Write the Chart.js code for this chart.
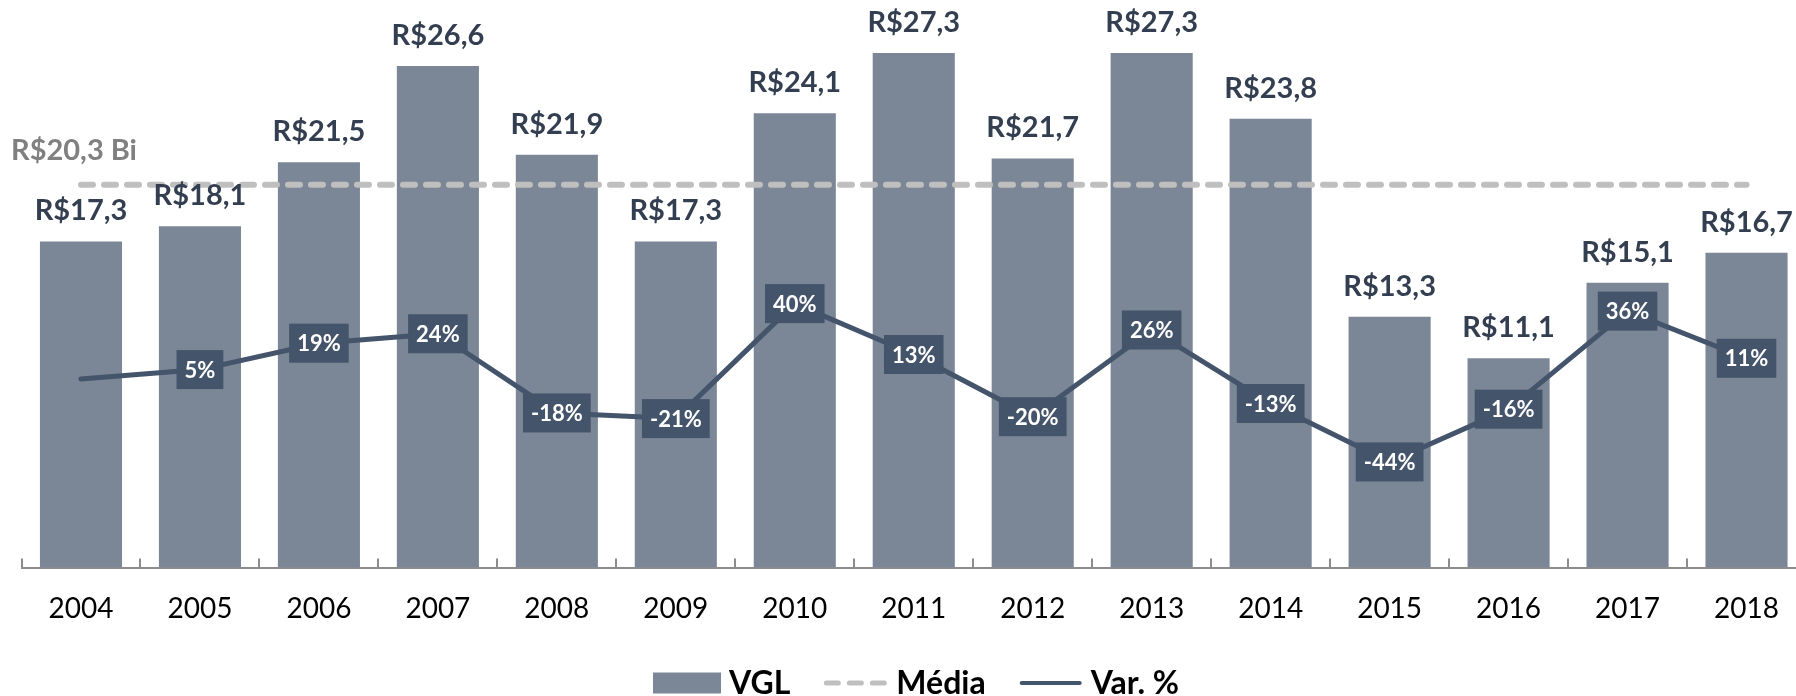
<!DOCTYPE html>
<html>
<head>
<meta charset="utf-8">
<script src="https://cdn.jsdelivr.net/npm/chart.js@4/dist/chart.umd.min.js"></script>
<style>
html,body{margin:0;padding:0;overflow:hidden;background:#ffffff;}
#wrap{position:relative;width:1806px;height:700px;}
canvas{display:block;}
</style>
</head>
<body>
<div id="wrap"><canvas id="c" width="1806" height="700"></canvas></div>
<script>
// ---- data ----
const years = ['2004','2005','2006','2007','2008','2009','2010','2011','2012','2013','2014','2015','2016','2017','2018'];
const vgl = [17.3, 18.1, 21.5, 26.6, 21.9, 17.3, 24.1, 27.3, 21.7, 27.3, 23.8, 13.3, 11.1, 15.1, 16.7];
const media = [20.3, 20.3, 20.3, 20.3, 20.3, 20.3, 20.3, 20.3, 20.3, 20.3, 20.3, 20.3, 20.3, 20.3, 20.3];
const varPct = [0, 5, 19, 24, -18, -21, 40, 13, -20, 26, -13, -44, -16, 36, 11];
const varLabels = ['', '5%', '19%', '24%', '-18%', '-21%', '40%', '13%', '-20%', '26%', '-13%', '-44%', '-16%', '36%', '11%'];
const mediaLabel = 'R$20,3 Bi';
const seriesNames = ['VGL', 'Média', 'Var. %'];

const FONT = 'Lato, "Open Sans", sans-serif';
const BAR_COLOR = '#7B8796';
const LINE_COLOR = '#44546A';
const MEAN_COLOR = '#BFBFBF';
const LABEL_COLOR = '#333F50';

function fmtMoney(v){ return 'R$' + v.toFixed(1).replace('.', ','); }

const labelsPlugin = {
  id: 'labelsPlugin',
  afterDatasetsDraw(chart){
    const ctx = chart.ctx;
    const xs = chart.scales.x;
    const ys = chart.scales.y;
    const area = chart.chartArea;
    ctx.save();
    // upward tick marks on the category axis (category boundaries)
    const step = xs.getPixelForValue(1) - xs.getPixelForValue(0);
    ctx.strokeStyle = '#8C8C8C';
    ctx.lineWidth = 2;
    for (let i = 0; i <= years.length; i++) {
      const x = Math.round(xs.getPixelForValue(i) - step / 2) + (i === 0 ? 1 : 0);
      ctx.beginPath();
      ctx.moveTo(x, area.bottom);
      ctx.lineTo(x, area.bottom - 9);
      ctx.stroke();
    }
    // bar value labels
    const barMeta = chart.getDatasetMeta(0);
    ctx.font = 'bold 29px ' + FONT;
    ctx.fillStyle = LABEL_COLOR;
    ctx.textAlign = 'center';
    ctx.textBaseline = 'alphabetic';
    barMeta.data.forEach((bar, i) => {
      ctx.fillText(fmtMoney(vgl[i]), bar.x, bar.y - 21);
    });
    // mean label
    const my = ys.getPixelForValue(media[0]);
    ctx.fillStyle = '#808080';
    ctx.textAlign = 'left';
    ctx.fillText(mediaLabel, 11, my - 25);
    // percentage boxes
    const lineMeta = chart.getDatasetMeta(2);
    ctx.font = 'bold 22px ' + FONT;
    ctx.textAlign = 'center';
    ctx.textBaseline = 'middle';
    lineMeta.data.forEach((pt, i) => {
      const t = varLabels[i];
      if (!t) return;
      const w = ctx.measureText(t).width + 16;
      const h = 39;
      ctx.fillStyle = LINE_COLOR;
      ctx.fillRect(pt.x - w / 2, pt.y - h / 2, w, h);
      ctx.fillStyle = '#FFFFFF';
      ctx.fillText(t, pt.x, pt.y + 1);
    });
    ctx.restore();
  },
  afterDraw(chart){
    // legend (series names from the datasets)
    const ctx = chart.ctx;
    const ds = chart.data.datasets;
    const area = chart.chartArea;
    const cy = area.bottom + 115.5;
    const sw = [68, 65, 64];
    const gapText = 8, gapItem = 33;
    ctx.save();
    ctx.font = 'bold 32px ' + FONT;
    ctx.textBaseline = 'middle';
    ctx.textAlign = 'left';
    const tw = ds.map(d => ctx.measureText(d.label).width);
    let total = 0;
    for (let i = 0; i < ds.length; i++) total += sw[i] + gapText + tw[i] + (i < ds.length - 1 ? gapItem : 0);
    let x = 916 - total / 2;
    ds.forEach((d, i) => {
      if (d.type === 'bar') {
        ctx.fillStyle = d.backgroundColor;
        ctx.fillRect(x, cy - 10.5, sw[i], 21);
      } else {
        ctx.strokeStyle = d.borderColor;
        ctx.lineWidth = d.borderWidth - 1;
        ctx.lineCap = 'round';
        ctx.setLineDash(d.borderDash || []);
        ctx.beginPath();
        ctx.moveTo(x + 3, cy);
        ctx.lineTo(x + sw[i] - 3, cy);
        ctx.stroke();
        ctx.setLineDash([]);
      }
      x += sw[i] + gapText;
      ctx.fillStyle = '#000000';
      ctx.fillText(d.label, x, cy + 1);
      x += tw[i] + gapItem;
    });
    ctx.restore();
  }
};

new Chart(document.getElementById('c'), {
  data: {
    labels: years,
    datasets: [
      {
        type: 'bar', label: seriesNames[0], data: vgl, yAxisID: 'y',
        backgroundColor: BAR_COLOR, borderWidth: 0,
        categoryPercentage: 1, barPercentage: 0.69, order: 3
      },
      {
        type: 'line', label: seriesNames[1], data: media, yAxisID: 'y',
        borderColor: MEAN_COLOR, backgroundColor: MEAN_COLOR, borderWidth: 6,
        borderDash: [12, 11], borderCapStyle: 'round',
        pointRadius: 0, tension: 0, order: 2
      },
      {
        type: 'line', label: seriesNames[2], data: varPct, yAxisID: 'y2',
        borderColor: LINE_COLOR, backgroundColor: LINE_COLOR, borderWidth: 5,
        borderCapStyle: 'round', borderJoinStyle: 'round',
        pointRadius: 0, tension: 0, order: 1
      }
    ]
  },
  options: {
    responsive: false,
    animation: false,
    devicePixelRatio: 1,
    layout: { padding: { left: 21.5, right: 0, top: 2, bottom: 65.5 } },
    scales: {
      x: {
        type: 'category',
        offset: true,
        grid: { display: true, drawOnChartArea: false, drawTicks: false, color: 'rgba(0,0,0,0)' },
        border: { display: true, color: '#8C8C8C', width: 2 },
        ticks: {
          color: '#000000', padding: 15, maxRotation: 0, autoSkip: false,
          font: { family: FONT, size: 28, lineHeight: 52 / 28 }
        },
        afterFit(scale) { scale.height = 67; }
      },
      y: { display: false, min: 0, max: 30 },
      y2: { display: false, min: -100, max: 200 }
    },
    plugins: {
      tooltip: { enabled: false },
      legend: { display: false }
    }
  },
  plugins: [labelsPlugin]
});
</script>
</body>
</html>
